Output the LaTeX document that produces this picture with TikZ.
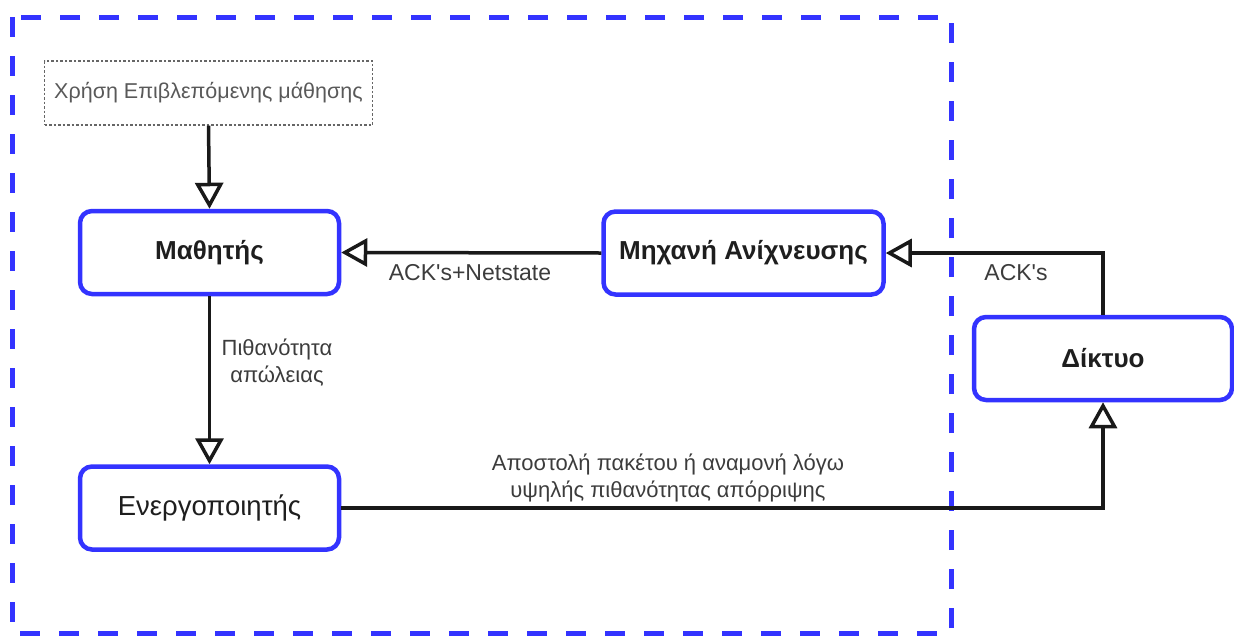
\documentclass[tikz,border=0pt]{standalone}
\usepackage{fontspec}
\setmainfont{Liberation Sans}[Ligatures=TeXOff]
\usetikzlibrary{arrows.meta}
\definecolor{frameblue}{RGB}{51,51,255}
\definecolor{inkdark}{RGB}{30,30,30}
\definecolor{labelgray}{RGB}{60,60,60}
\begin{document}
\begin{tikzpicture}[x=1pt,y=-1pt,
  block/.style={draw=frameblue, line width=4.5pt, rounded corners=12pt, fill=white,
    inner sep=0pt, text=inkdark, font=\fontsize{26}{30}\selectfont\bfseries},
  hintbox/.style={draw=black!60, line width=1.3pt, dash pattern=on 2.5pt off 2pt,
    inner sep=0pt, text=black!65, font=\fontsize{21.5}{25}\selectfont},
  conn/.style={line width=3.5pt, draw=black!90,
    -{Triangle[open,length=26pt,width=28pt]}},
  lbl/.style={text=labelgray, font=\fontsize{22}{27}\selectfont, align=center, inner sep=0pt}]
\useasboundingbox (0,0) rectangle (1234,635);

% system boundary
\draw[frameblue, line width=5pt, dash pattern=on 20pt off 19pt] (12,17) rectangle (951,633);

% components
\node[hintbox, minimum width=328pt, minimum height=64pt] (hint) at (208.5,93) {Χρήση Επιβλεπόμενης μάθησης};
\node[block, minimum width=259pt, minimum height=83pt] (learner) at (209.5,252.5) {Μαθητής};
\node[block, minimum width=259pt, minimum height=83pt, font=\fontsize{27.5}{31}\selectfont] (actuator) at (209.5,508) {Ενεργοποιητής};
\node[block, minimum width=280pt, minimum height=83pt] (detector) at (743.5,253) {Μηχανή Ανίχνευσης};
\node[block, minimum width=258pt, minimum height=83pt] (network) at (1103,358.5) {Δίκτυο};

% connectors
\draw[conn] (hint.south) -- (learner.north);
\draw[conn] (learner.south) -- (actuator.north);
\draw[conn] (detector.west) -- (learner.east);
\draw[conn] (network.north) |- (detector.east);
\draw[conn] (actuator.east) -| (network.south);

% connector labels
\node[lbl] (lossprob) at (277,363) {Πιθανότητα\\απώλειας};
\node[lbl, font=\fontsize{23}{27}\selectfont] (acknet) at (470,273) {ACK's+Netstate};
\node[lbl, font=\fontsize{23}{27}\selectfont] (acks) at (1016,273) {ACK's};
\node[lbl] (sendwait) at (668,478) {Αποστολή πακέτου ή αναμονή λόγω\\υψηλής πιθανότητας απόρριψης};
\end{tikzpicture}
\end{document}
